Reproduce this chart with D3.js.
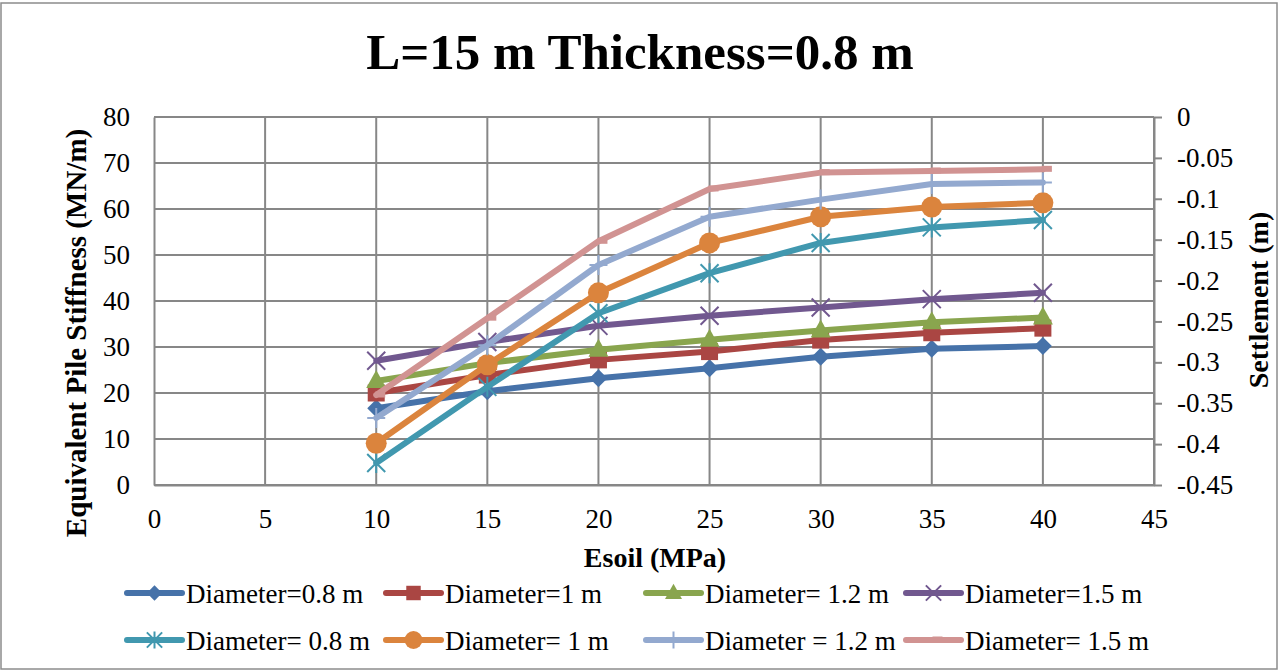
<!DOCTYPE html>
<html>
<head>
<meta charset="utf-8">
<script src="https://cdn.jsdelivr.net/npm/d3@7/dist/d3.min.js"></script>
<style>
  html, body { margin: 0; padding: 0; background: #fff; }
  svg { display: block; }
  text { font-family: "Liberation Serif", "Times New Roman", serif; fill: #000; }
</style>
</head>
<body>
<svg id="chart" width="1280" height="672"></svg>
<script>
// Soil modulus (MPa)
const esoil = [10, 15, 20, 25, 30, 35, 40];

// Equivalent pile stiffness (MN/m), left axis
const stiffD08 = [16.7, 20.4, 23.2, 25.4, 27.9, 29.6, 30.2];
const stiffD10 = [20.0, 23.9, 27.2, 29.0, 31.5, 33.1, 34.1];
const stiffD12 = [22.6, 26.5, 29.4, 31.6, 33.6, 35.4, 36.4];
const stiffD15 = [27.0, 31.1, 34.6, 36.8, 38.6, 40.4, 41.8];

// Settlement (m), right axis
const settD08 = [-0.423, -0.330, -0.240, -0.191, -0.154, -0.135, -0.126];
const settD10 = [-0.399, -0.303, -0.215, -0.154, -0.122, -0.110, -0.105];
const settD12 = [-0.368, -0.279, -0.181, -0.122, -0.101, -0.082, -0.080];
const settD15 = [-0.340, -0.246, -0.152, -0.088, -0.068, -0.066, -0.064];

const xTicks = [0, 5, 10, 15, 20, 25, 30, 35, 40, 45];
const leftTicks = [0, 10, 20, 30, 40, 50, 60, 70, 80];
const rightTicks = [0, -0.05, -0.1, -0.15, -0.2, -0.25, -0.3, -0.35, -0.4, -0.45];

const series = [
  { name: "Diameter=0.8 m",   values: stiffD08, axis: "left",  color: "#4672A9", marker: "diamond" },
  { name: "Diameter=1 m",     values: stiffD10, axis: "left",  color: "#AA4643", marker: "square" },
  { name: "Diameter= 1.2 m",  values: stiffD12, axis: "left",  color: "#89A54E", marker: "triangle" },
  { name: "Diameter=1.5 m",   values: stiffD15, axis: "left",  color: "#71588F", marker: "x" },
  { name: "Diameter= 0.8 m",  values: settD08,  axis: "right", color: "#4198AF", marker: "star" },
  { name: "Diameter= 1 m",    values: settD10,  axis: "right", color: "#DB843D", marker: "circle" },
  { name: "Diameter = 1.2 m", values: settD12,  axis: "right", color: "#93A9CF", marker: "plus" },
  { name: "Diameter= 1.5 m",  values: settD15,  axis: "right", color: "#D19392", marker: "dash" }
];

const svg = d3.select("#chart");
const plot = { left: 154, right: 1154, top: 117, bottom: 485 };

const x = d3.scaleLinear().domain([0, 45]).range([plot.left, plot.right]);
const yL = d3.scaleLinear().domain([0, 80]).range([plot.bottom, plot.top]);
const yR = d3.scaleLinear().domain([-0.45, 0]).range([plot.bottom, plot.top]);

const gridColor = "#878787";
const tickFont = "27px";

// chart frame
svg.append("rect")
  .attr("x", 1).attr("y", 3).attr("width", 1276).attr("height", 666)
  .attr("fill", "#fff").attr("stroke", "#8c8c8c").attr("stroke-width", 1.5);

// gridlines
const grid = svg.append("g");
grid.selectAll("line.h").data(leftTicks).join("line")
  .attr("x1", plot.left).attr("x2", plot.right)
  .attr("y1", d => yL(d)).attr("y2", d => yL(d))
  .attr("stroke", gridColor).attr("stroke-width", 2);
grid.selectAll("line.v").data(xTicks.filter(d => d > 0)).join("line")
  .attr("x1", d => x(d)).attr("x2", d => x(d))
  .attr("y1", plot.top).attr("y2", plot.bottom)
  .attr("stroke", gridColor).attr("stroke-width", 2);

// axes
function styleAxis(g) {
  g.select(".domain").attr("stroke", gridColor).attr("stroke-width", 2);
  g.selectAll(".tick line").attr("stroke", gridColor).attr("stroke-width", 2);
  g.selectAll(".tick text")
    .style("font-family", '"Liberation Serif", serif')
    .style("font-size", tickFont).attr("fill", "#000");
}

svg.append("g")
  .attr("transform", `translate(0,${plot.bottom})`)
  .call(d3.axisBottom(x).tickValues(xTicks).tickSize(0).tickPadding(24).tickFormat(d3.format("d")))
  .call(styleAxis);

svg.append("g")
  .attr("transform", `translate(${plot.left},0)`)
  .call(d3.axisLeft(yL).tickValues(leftTicks).tickSize(0).tickPadding(24).tickFormat(d3.format("d")))
  .call(styleAxis);

svg.append("g")
  .attr("transform", `translate(${plot.right},0)`)
  .call(d3.axisRight(yR).tickValues(rightTicks).tickSize(8).tickSizeOuter(0).tickPadding(15)
    .tickFormat(d => d === 0 ? "0" : String(+d.toFixed(2))))
  .call(styleAxis);

// titles
svg.append("text")
  .attr("x", 640).attr("y", 69).attr("text-anchor", "middle")
  .style("font-size", "51px").style("font-weight", "bold")
  .text("L=15 m Thickness=0.8 m");

svg.append("text")
  .attr("x", 655).attr("y", 567).attr("text-anchor", "middle")
  .style("font-size", "28px").style("font-weight", "bold")
  .text("Esoil (MPa)");

svg.append("text")
  .attr("transform", "translate(86,333) rotate(-90)")
  .attr("text-anchor", "middle")
  .style("font-size", "29px").style("font-weight", "bold")
  .text("Equivalent Pile Stiffness (MN/m)");

svg.append("text")
  .attr("transform", "translate(1268,300) rotate(-90)")
  .attr("text-anchor", "middle")
  .style("font-size", "28px").style("font-weight", "bold")
  .text("Settlement (m)");

// marker drawing
function drawMarker(g, type, color, k) {
  const s = k || 1;
  switch (type) {
    case "diamond":
      g.append("path").attr("d", `M0,${-9 * s}L${9 * s},0L0,${9 * s}L${-9 * s},0Z`).attr("fill", color);
      break;
    case "square":
      g.append("rect").attr("x", -8.5 * s).attr("y", -8.5 * s).attr("width", 17 * s).attr("height", 17 * s).attr("fill", color);
      break;
    case "triangle":
      g.append("path").attr("d", `M0,${-11 * s}L${10 * s},${7 * s}L${-10 * s},${7 * s}Z`).attr("fill", color);
      break;
    case "x":
      g.append("path").attr("d", `M${-9 * s},${-9 * s}L${9 * s},${9 * s}M${-9 * s},${9 * s}L${9 * s},${-9 * s}`)
        .attr("stroke", color).attr("stroke-width", 2);
      break;
    case "star":
      g.append("path").attr("d", `M${-9 * s},${-9 * s}L${9 * s},${9 * s}M${-9 * s},${9 * s}L${9 * s},${-9 * s}M0,${-10 * s}L0,${10 * s}`)
        .attr("stroke", color).attr("stroke-width", 2);
      break;
    case "circle":
      g.append("circle").attr("r", 10.5 * s).attr("fill", color);
      break;
    case "plus":
      g.append("path").attr("d", `M0,${-10 * s}L0,${10 * s}M${-9 * s},0L${9 * s},0`)
        .attr("stroke", color).attr("stroke-width", 2);
      break;
    case "dash":
      g.append("rect").attr("x", -1).attr("y", -3.5).attr("width", 10).attr("height", 6).attr("fill", color);
      break;
  }
}

// series
const line = d3.line();
series.forEach(s => {
  const y = s.axis === "left" ? yL : yR;
  const pts = esoil.map((e, i) => [x(e), y(s.values[i])]);
  const g = svg.append("g");
  g.append("path")
    .attr("d", line(pts))
    .attr("fill", "none")
    .attr("stroke", s.color)
    .attr("stroke-width", 6)
    .attr("stroke-linejoin", "round")
    .attr("stroke-linecap", "round");
  pts.forEach(p => {
    const m = g.append("g").attr("transform", `translate(${p[0]},${p[1]})`);
    drawMarker(m, s.marker, s.color);
  });
});

// legend
const legendCols = [127, 386, 646, 906];
const legendRows = [593, 640];
series.forEach((s, i) => {
  const lx = legendCols[i % 4];
  const ly = legendRows[Math.floor(i / 4)];
  const g = svg.append("g").attr("transform", `translate(${lx},${ly})`);
  g.append("line").attr("x1", 0).attr("x2", 55).attr("y1", 0).attr("y2", 0)
    .attr("stroke", s.color).attr("stroke-width", 6).attr("stroke-linecap", "round");
  const m = g.append("g").attr("transform", "translate(27.5,0)");
  drawMarker(m, s.marker, s.color, 0.85);
  g.append("text").attr("x", 59).attr("y", 10)
    .style("font-size", "27px")
    .text(s.name);
});
</script>
</body>
</html>
